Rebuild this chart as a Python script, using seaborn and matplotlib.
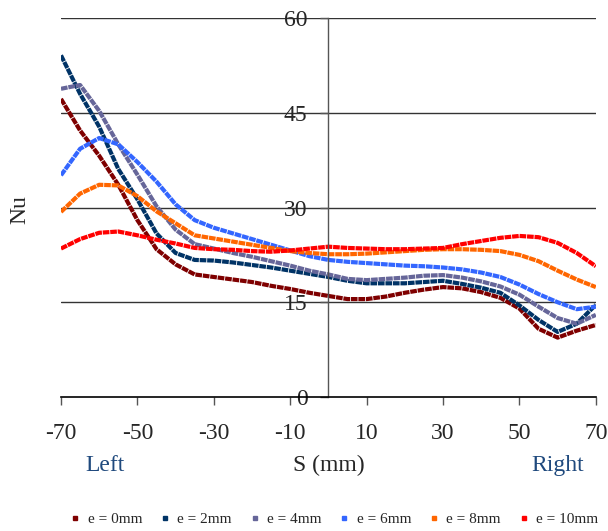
import pandas as pd
import matplotlib
matplotlib.use('Agg')
import matplotlib.pyplot as plt
from matplotlib.lines import Line2D
import seaborn as sns

# --- Data ---
s_mm = [-70, -65, -60, -55, -50, -45, -40, -35, -30, -25, -20, -15, -10, -5, 0,
        5, 10, 15, 20, 25, 30, 35, 40, 45, 50, 55, 60, 65, 70]
nu_e0 = [47.2, 42.2, 38.2, 33.6, 28.0, 23.4, 21.0, 19.4, 19.0, 18.6, 18.2, 17.6, 17.1, 16.5, 16.0,
         15.5, 15.5, 15.9, 16.5, 17.0, 17.4, 17.2, 16.6, 15.7, 14.0, 10.8, 9.4, 10.5, 11.4]
nu_e2 = [54.1, 48.0, 42.8, 36.1, 31.3, 25.9, 22.8, 21.7, 21.6, 21.3, 20.9, 20.5, 20.0, 19.5, 19.0,
         18.4, 18.0, 18.0, 18.0, 18.2, 18.4, 17.9, 17.3, 16.5, 14.5, 12.2, 10.3, 11.6, 14.6]
nu_e4 = [48.8, 49.4, 45.3, 40.0, 35.2, 30.2, 26.5, 24.2, 23.5, 22.8, 22.2, 21.5, 20.8, 20.0, 19.4,
         18.7, 18.5, 18.7, 18.9, 19.2, 19.3, 18.9, 18.3, 17.5, 16.2, 14.3, 12.5, 11.6, 13.0]
nu_e6 = [35.1, 39.3, 41.0, 40.0, 37.2, 34.1, 30.5, 28.0, 26.8, 25.9, 25.0, 24.1, 23.2, 22.3, 21.7,
         21.4, 21.2, 21.0, 20.8, 20.7, 20.5, 20.2, 19.7, 19.0, 17.8, 16.3, 15.0, 13.9, 14.3]
nu_e8 = [29.3, 32.2, 33.6, 33.5, 31.8, 29.4, 27.5, 25.6, 25.1, 24.6, 24.1, 23.6, 23.1, 22.8, 22.6,
         22.6, 22.7, 22.9, 23.1, 23.3, 23.4, 23.4, 23.3, 23.1, 22.5, 21.5, 20.0, 18.6, 17.4]
nu_e10 = [23.5, 25.0, 26.0, 26.2, 25.6, 24.9, 24.3, 23.6, 23.4, 23.3, 23.1, 23.0, 23.2, 23.5, 23.8,
          23.6, 23.5, 23.4, 23.4, 23.5, 23.6, 24.2, 24.7, 25.2, 25.5, 25.3, 24.4, 22.8, 20.7]

series_labels = ['e = 0mm', 'e = 2mm', 'e = 4mm', 'e = 6mm', 'e = 8mm', 'e = 10mm']
series_values = [nu_e0, nu_e2, nu_e4, nu_e6, nu_e8, nu_e10]
colors = ['#7F0000', '#003366', '#666699', '#3366FF', '#FF6600', '#FF0000']
y_ticks = [0, 15, 30, 45, 60]
x_ticks = [-70, -50, -30, -10, 10, 30, 50, 70]

df = pd.concat([pd.DataFrame({'S': s_mm, 'Nu': vals, 'series': lab})
                for lab, vals in zip(series_labels, series_values)], ignore_index=True)

# --- Style ---
sns.set_theme(style="white")
plt.rcParams['font.family'] = ['Liberation Serif', 'DejaVu Serif']
plt.rcParams['axes.unicode_minus'] = False

fig = plt.figure(figsize=(6.08, 5.31), dpi=100)
ax = fig.add_axes([0.1003, 0.2524, 0.8797, 0.7136])

sns.lineplot(data=df, x='S', y='Nu', hue='series', palette=colors, hue_order=series_labels,
             linewidth=3.0, legend=False, ax=ax)
for line in ax.lines:
    line.set_linestyle((0, (1.6, 0.2)))

ax.set_xlim(-70, 70)
ax.set_ylim(0, 60)
ax.set_yticks(y_ticks)
ax.set_xticks(x_ticks)
for y in y_ticks[1:]:
    ax.axhline(y, color='#333333', lw=1.0, zorder=0)

ax.spines['top'].set_visible(False)
ax.spines['right'].set_visible(False)
ax.spines['left'].set_position(('data', 0))
ax.spines['left'].set_color('#555555')
ax.spines['left'].set_linewidth(1.0)
ax.spines['bottom'].set_color('black')
ax.spines['bottom'].set_linewidth(1.2)

ax.tick_params(axis='y', direction='out', length=6, width=1, color='#555555', pad=9,
               labelsize=17, left=True)
ax.tick_params(axis='x', direction='out', length=6, width=1, color='#555555', pad=13,
               labelsize=17, bottom=True)
ax.set_xlabel('')
ax.set_ylabel('')

fig.text(0.033, 0.605, 'Nu', rotation=90, ha='center', va='center', fontsize=17)
fig.text(0.541, 0.124, 'S (mm)', ha='center', va='center', fontsize=17)
fig.text(0.173, 0.124, 'Left', ha='center', va='center', fontsize=17, color='#1F497D')
fig.text(0.918, 0.124, 'Right', ha='center', va='center', fontsize=17, color='#1F497D')

handles = [Line2D([], [], marker='s', markersize=2.5, linestyle='none', color=c) for c in colors]
fig.legend(handles, series_labels, loc='center', bbox_to_anchor=(0.55, 0.022), ncol=6,
           frameon=False, fontsize=11, handlelength=0.6, handletextpad=0.5, columnspacing=1.2)

fig.savefig('out.png', dpi=100)
plt.close(fig)
